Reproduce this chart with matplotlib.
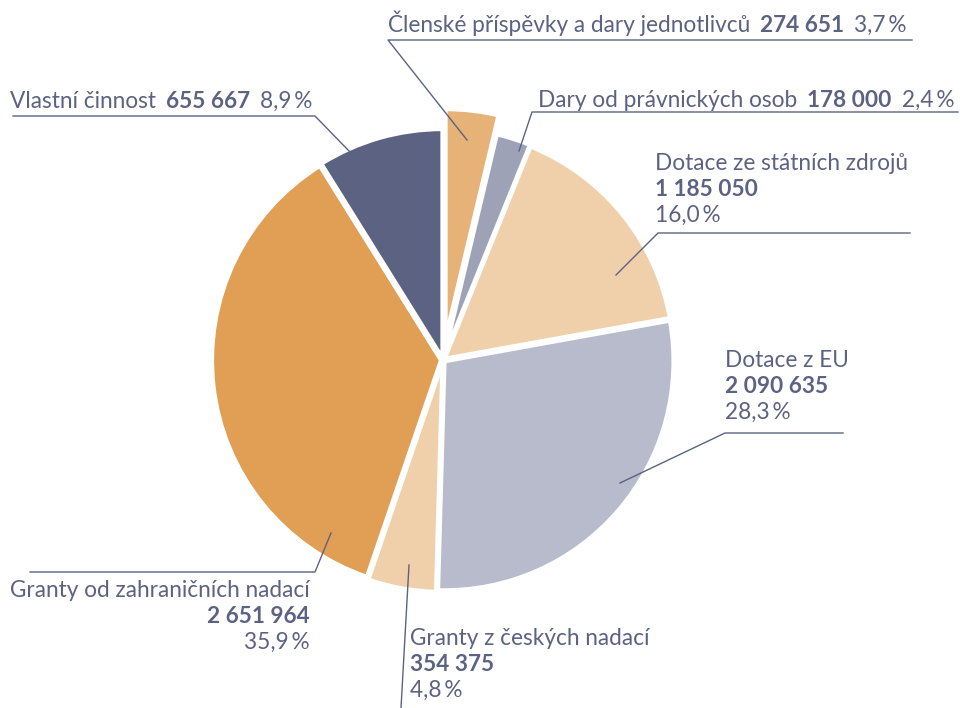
import matplotlib.pyplot as plt

plt.rcParams['font.family'] = ['Lato', 'DejaVu Sans']

# data, clockwise from the top
categories = ['Členské příspěvky a dary jednotlivců', 'Dary od právnických osob',
              'Dotace ze státních zdrojů', 'Dotace z EU', 'Granty z českých nadací',
              'Granty od zahraničních nadací', 'Vlastní činnost']
values = [274651, 178000, 1185050, 2090635, 354375, 2651964, 655667]
shares = ['3,7', '2,4', '16,0', '28,3', '4,8', '35,9', '8,9']
colors = ['#e6b278', '#9ea2b7', '#f0d0aa', '#b8bbcb', '#f0d0aa', '#e09f55', '#5c6282']
explode = [22, 3, 2, 2, 3, 2, 2]

W, H = 960, 708
TXT = '#5c6282'
FS = 16.3

fig = plt.figure(figsize=(W / 100, H / 100), dpi=100)
ax = fig.add_axes([0, 0, 1, 1])

ax.pie(values, colors=colors, startangle=90, counterclock=False,
       center=(443, H - 360), radius=229, explode=explode,
       wedgeprops=dict(edgecolor='white', linewidth=3), frame=True)
ax.set_xlim(0, W)
ax.set_ylim(0, H)
ax.axis('off')

renderer = fig.canvas.get_renderer()


def fmt(v):
    return f'{v:,}'.replace(',', ' ')


def pct(s):
    return s + '\u2009%'


def inline(x, y, parts, gap=10):
    # parts drawn one after another on the same baseline
    for s, w in parts:
        t = ax.text(x, H - y, s, fontsize=FS, fontweight=w, color=TXT, va='baseline')
        x = t.get_window_extent(renderer).x1 + gap


def stacked(x, y, i, ha='left', step=26):
    ax.text(x, H - y, categories[i], fontsize=FS, color=TXT, ha=ha, va='baseline')
    ax.text(x, H - y - step, fmt(values[i]), fontsize=FS, fontweight='bold', color=TXT, ha=ha, va='baseline')
    ax.text(x, H - y - 2 * step, pct(shares[i]), fontsize=FS, color=TXT, ha=ha, va='baseline')


def leader(pts):
    ax.plot([p[0] for p in pts], [H - p[1] for p in pts], color=TXT, lw=1.0)


inline(388, 32, [(categories[0], 'normal'), (fmt(values[0]), 'bold'), (pct(shares[0]), 'normal')])
inline(538, 107, [(categories[1], 'normal'), (fmt(values[1]), 'bold'), (pct(shares[1]), 'normal')])
inline(10, 108, [(categories[6], 'normal'), (fmt(values[6]), 'bold'), (pct(shares[6]), 'normal')])
stacked(655, 170, 2)
stacked(725, 367, 3)
stacked(410, 645, 4)
stacked(310, 597, 5, ha='right')

leader([(912, 40), (388, 40), (467, 140)])
leader([(958, 112), (532, 112), (519, 151)])
leader([(910, 233), (658, 233), (616, 275)])
leader([(843, 433), (725, 433), (620, 483)])
leader([(409, 565), (401, 708)])
leader([(30, 572), (315, 572), (331, 533)])
leader([(13, 116), (315, 116), (350, 152)])

fig.savefig('out.png', dpi=100)
